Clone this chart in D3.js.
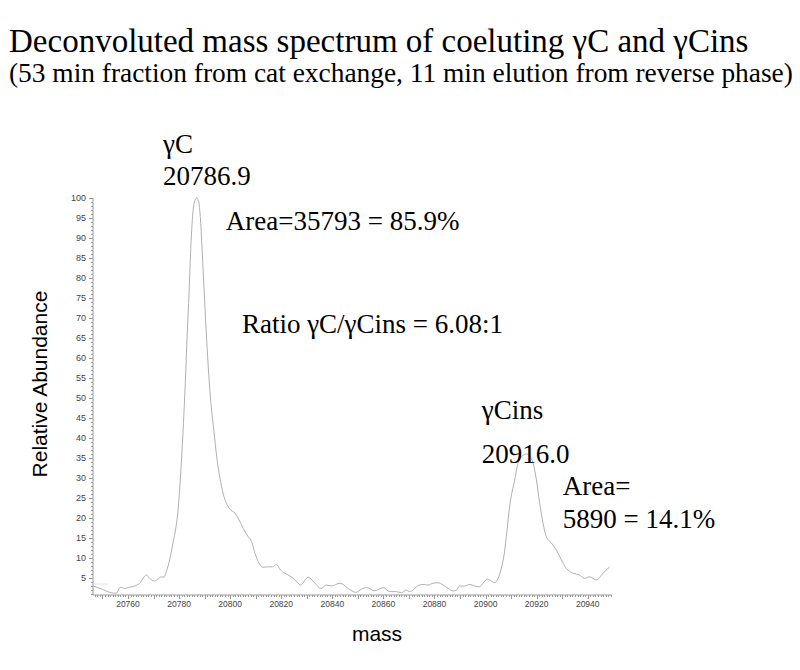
<!DOCTYPE html>
<html><head><meta charset="utf-8">
<script src="https://cdn.jsdelivr.net/npm/d3@7"></script>
<style>body{margin:0;background:#fff}</style>
</head><body>
<script>
const mass = [20746.3,20749.5,20753.5,20755.4,20757.0,20758.7,20760.6,20762.6,20764.6,20767.2,20768.5,20770.4,20771.7,20773.0,20774.1,20775.0,20776.3,20777.6,20778.8,20779.6,20780.3,20781.1,20781.9,20782.6,20783.2,20783.9,20784.5,20785.1,20785.9,20786.9,20787.6,20788.4,20789.1,20789.8,20790.6,20791.4,20792.3,20793.6,20794.8,20796.0,20797.3,20798.6,20799.9,20801.9,20803.2,20805.1,20807.1,20808.4,20809.7,20811.0,20812.7,20814.9,20816.6,20818.2,20819.7,20821.4,20823.4,20825.3,20827.6,20830.5,20833.2,20835.5,20837.7,20839.7,20843.0,20846.2,20849.2,20851.4,20853.4,20856.6,20859.9,20862.5,20865.1,20867.1,20869.0,20870.3,20871.6,20873.3,20875.5,20877.5,20879.4,20881.4,20883.4,20885.3,20887.3,20888.6,20889.9,20891.8,20893.8,20895.8,20897.7,20899.0,20900.7,20902.3,20903.6,20904.9,20906.2,20907.3,20908.4,20909.4,20911.4,20912.7,20914.0,20916.0,20917.3,20918.6,20919.9,20921.2,20922.5,20923.8,20925.8,20927.7,20929.7,20931.6,20934.2,20936.8,20938.8,20940.7,20943.4,20946.0,20948.6];
const abundance = [3.0,2.3,1.3,1.2,2.7,2.4,2.7,3.0,3.7,5.75,4.9,4.25,4.7,5.3,5.2,6.6,9.5,13.7,17.8,22,27.8,36.2,46.2,56.2,66.2,76.2,86.2,93.7,98.7,100,99.3,94.5,86,77,67,58,50,42,35,30,26,23.6,22.2,21.2,19.9,17.4,15.3,14.1,11.2,9.1,7.7,7.8,7.8,8.4,7.0,6.2,5.5,4.6,3.25,5.2,3.7,2.4,3.25,3.0,3.7,2.4,1.4,2.2,2.6,1.8,2.6,1.6,1.6,1.3,2.0,1.6,2.0,3.0,3.4,3.25,3.7,3.8,3.25,2.4,1.75,2.0,3.0,3.0,3.4,3.0,2.8,3.7,4.7,4.25,3.8,4.9,7.5,11,17,22.8,29.5,33.7,35.3,36,35.5,33.7,29.5,23.7,18.7,15.3,13.7,12.0,9.5,7.4,6.2,5.75,4.9,5.3,4.5,6.2,7.8];
const xTickValues = [20760,20780,20800,20820,20840,20860,20880,20900,20920,20940];
const yTickValues = [5,10,15,20,25,30,35,40,45,50,55,60,65,70,75,80,85,90,95,100];
const titleText = "Deconvoluted mass spectrum of coeluting γC and γCins";
const subtitleText = "(53 min fraction from cat exchange, 11 min elution from reverse phase)";
const annotations = [
  {text:"γC", m:20773.7, v:111.2},
  {text:"20786.9", m:20773.7, v:103.2},
  {text:"Area=35793 = 85.9%", m:20798.3, v:92.0},
  {text:"Ratio γC/γCins = 6.08:1", m:20804.6, v:66.3},
  {text:"γCins", m:20898.5, v:44.8},
  {text:"20916.0", m:20898.5, v:33.8},
  {text:"Area=", m:20930.2, v:25.8},
  {text:"5890 = 14.1%", m:20930.2, v:17.5}
];

const W = 800, H = 670;
const svg = d3.select("body").append("svg").attr("width", W).attr("height", H);

const x = d3.scaleLinear().domain([20746.3, 20949.5]).range([93, 612]);
const y = d3.scaleLinear().domain([0.75, 100]).range([595, 198]);

const serif = "'Liberation Serif','Times New Roman',serif";
const sans = "'Liberation Sans',Arial,sans-serif";

svg.append("text").attr("x", 9).attr("y", 52).attr("font-family", serif).attr("font-size", 33).attr("fill", "#000").text(titleText);
svg.append("text").attr("x", 9).attr("y", 82).attr("font-family", serif).attr("font-size", 27.4).attr("fill", "#000").text(subtitleText);

const axisColor = "#9a9a9a";
// y axis
const yAxisG = svg.append("g").attr("transform", `translate(${x.range()[0]},0)`);
yAxisG.append("line").attr("x1",0).attr("x2",0).attr("y1",y(0.75)).attr("y2",y(100)).attr("stroke",axisColor);
const yMinor = d3.range(1, 101);
yAxisG.selectAll("line.minor").data(yMinor).join("line").attr("class","minor")
  .attr("x1",0).attr("x2", d => d % 5 === 0 ? -4 : -2).attr("y1", d=>Math.round(y(d))+0.5).attr("y2", d=>Math.round(y(d))+0.5).attr("stroke",axisColor);
yAxisG.selectAll("text").data(yTickValues).join("text").attr("x",-7).attr("y",d=>y(d)).attr("dy","0.35em")
  .attr("text-anchor","end").attr("font-family",sans).attr("font-size",9).attr("fill","#444").text(d=>d);

// x axis
const xAxisG = svg.append("g").attr("transform", `translate(0,${y(0.75)})`);
xAxisG.append("line").attr("x1",x.range()[0]).attr("x2",x.range()[1]).attr("y1",0).attr("y2",0).attr("stroke",axisColor);
const xMinor = d3.range(20747, 20950);
xAxisG.selectAll("line.minor").data(xMinor).join("line").attr("class","minor")
  .attr("x1",d=>Math.round(x(d))+0.5).attr("x2",d=>Math.round(x(d))+0.5).attr("y1",0).attr("y2",d => d % 10 === 0 ? 4 : 2).attr("stroke",axisColor);
xAxisG.selectAll("text").data(xTickValues).join("text").attr("x",d=>x(d)).attr("y",12)
  .attr("text-anchor","middle").attr("font-family",sans).attr("font-size",8.5).attr("fill","#444").text(d=>d);

// faint reference line near start
svg.append("line").attr("x1",x(20746.3)).attr("x2",x(20752)).attr("y1",y(3.5)).attr("y2",y(3.5)).attr("stroke","#e2e2e2");

const pts = mass.map((m,i)=>[m, abundance[i]]);
svg.append("path").datum(pts)
  .attr("d", d3.line().x(d=>x(d[0])).y(d=>y(d[1])).curve(d3.curveMonotoneX))
  .attr("fill","none").attr("stroke","#b0b0b0").attr("stroke-width",1);

svg.selectAll("text.ann").data(annotations).join("text").attr("class","ann")
  .attr("x", d=>x(d.m)).attr("y", d=>y(d.v)).attr("font-family", serif).attr("font-size", 27).attr("fill","#000").text(d=>d.text);

svg.append("text").attr("transform","translate(47,384) rotate(-90)").attr("text-anchor","middle")
  .attr("font-family",sans).attr("font-size",21).attr("fill","#000").text("Relative Abundance");
svg.append("text").attr("x",377).attr("y",641).attr("text-anchor","middle")
  .attr("font-family",sans).attr("font-size",21).attr("fill","#000").text("mass");
</script>
</body></html>
